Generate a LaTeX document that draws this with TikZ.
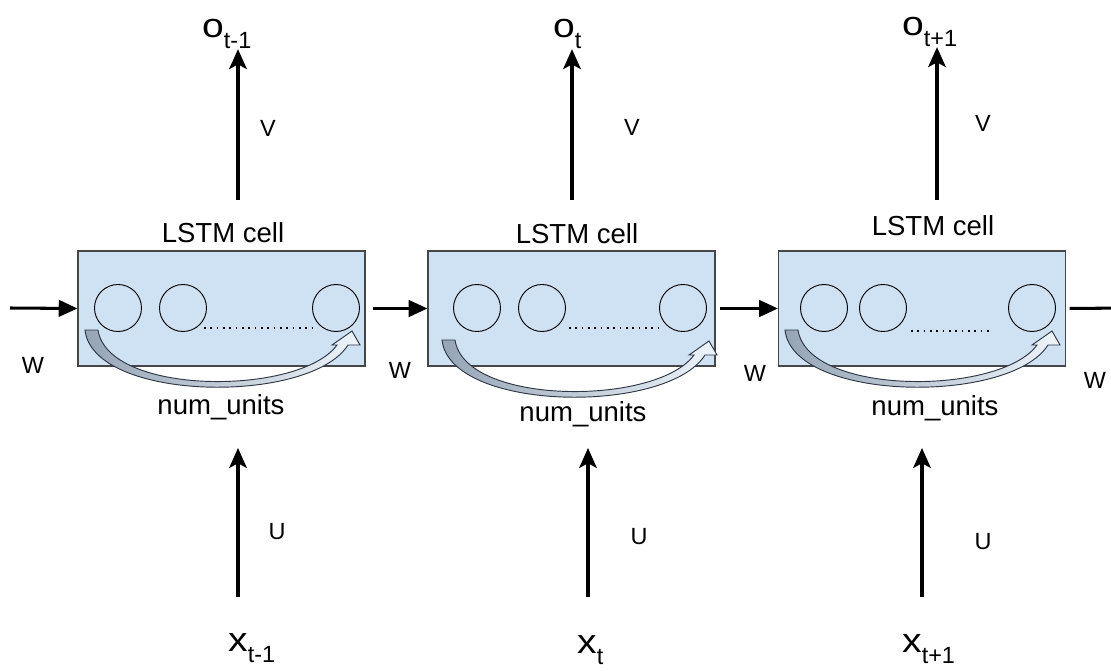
\documentclass[tikz,border=0pt]{standalone}
\usepackage{fontspec}
\setmainfont{Liberation Sans}
\usepackage{tikz}
\usetikzlibrary{arrows.meta}

\definecolor{cellblue}{RGB}{207,226,243}
\definecolor{celledge}{RGB}{70,70,70}
\definecolor{loopdark}{RGB}{150,165,182}
\definecolor{looplight}{RGB}{238,244,250}
\definecolor{loopedge}{RGB}{45,55,70}

\newcommand{\seqlbl}[2]{{\fontsize{29}{29}\selectfont\scalebox{1.15}[1]{#1}}\raisebox{-10pt}{\fontsize{20}{20}\selectfont #2}}

\tikzset{
  cell/.style={draw=celledge, fill=cellblue, line width=0.9pt, minimum width=8.61cm, minimum height=3.45cm, inner sep=0pt},
  unit/.style={draw, circle, line width=0.8pt, minimum size=1.41cm, inner sep=0pt},
  dots/.style={line width=1.4pt, dash pattern=on 1.4pt off 4pt},
  vec/.style={line width=2.6pt, -{Stealth[length=17pt, width=15pt, inset=4pt]}},
  hvec/.style={line width=2.6pt, -{Triangle[length=16pt, width=14pt]}},
  loopfill/.style={draw=loopedge, line width=0.8pt, left color=loopdark, right color=looplight},
  unitloop/.pic={
    \draw[loopfill] (7,-36) -- (20,-36) .. controls (30,30) and (222,30) .. (259,-21)
      -- (254,-21) -- (274,-35) -- (282,-21) -- (270,-21)
      .. controls (232,39) and (15,36) .. (7,-36) -- cycle;
  }
}

\begin{document}
\begin{tikzpicture}[x=0.03cm, y=-0.03cm, every node/.style={font=\fontsize{20}{20}\selectfont}]
  \useasboundingbox (0,0) rectangle (1111,671);

  \node[cell] (cell1) at (221.5,308.5) {};
  \node[cell] (cell2) at (571.5,308.5) {};
  \node[cell] (cell3) at (922,308.5) {};

  \node[unit] (u11) at (118,308) {};
  \node[unit] (u12) at (183,308) {};
  \node[unit] (u13) at (336,308) {};
  \node[unit] (u21) at (477,308) {};
  \node[unit] (u22) at (542,308) {};
  \node[unit] (u23) at (683,308) {};
  \node[unit] (u31) at (824,308) {};
  \node[unit] (u32) at (883,308) {};
  \node[unit] (u33) at (1032,308) {};

  \draw[dots] (204,328) -- (312,328);
  \draw[dots] (569,328) -- (659,328);
  \draw[dots] (911,331) -- (993,331);

  \pic at (78,366) {unitloop};
  \pic at (435,376) {unitloop};
  \pic at (778,366) {unitloop};

  \node[anchor=base, font=\fontsize{23.5}{23.5}\selectfont] (lab1) at (223,242) {LSTM cell};
  \node[anchor=base, font=\fontsize{23.5}{23.5}\selectfont] (lab2) at (577,243) {LSTM cell};
  \node[anchor=base, font=\fontsize{23.5}{23.5}\selectfont] (lab3) at (933,235) {LSTM cell};

  \node[anchor=base, font=\fontsize{23.5}{23.5}\selectfont] (nu1) at (221,414) {num\_units};
  \node[anchor=base, font=\fontsize{23.5}{23.5}\selectfont] (nu2) at (583,421) {num\_units};
  \node[anchor=base, font=\fontsize{23.5}{23.5}\selectfont] (nu3) at (935,415) {num\_units};

  \coordinate (win) at (10,308);
  \coordinate (wout) at (1130,308);
  \draw[hvec] (win) -- (cell1.west);
  \draw[hvec, shorten <=6pt] (cell1.east) -- (cell2.west);
  \draw[hvec, shorten <=4pt] (cell2.east) -- (cell3.west);
  \draw[hvec, shorten <=3pt] (cell3.east) -- (wout);

  \node (w1) at (33,365) {W};
  \node (w2) at (400,370) {W};
  \node (w3) at (755,373) {W};
  \node (w4) at (1095,380) {W};

  \node[anchor=base west, inner sep=0pt] (o1) at (202,37) {\seqlbl{o}{t-1}};
  \node[anchor=base west, inner sep=0pt] (o2) at (553,37) {\seqlbl{o}{t}};
  \node[anchor=base west, inner sep=0pt] (o3) at (902,35) {\seqlbl{o}{t+1}};

  \coordinate (vs1) at (238,200);
  \coordinate (vs2) at (572,200);
  \coordinate (vs3) at (937,200);
  \draw[vec] (vs1) -- (vs1 |- o1.south);
  \draw[vec] (vs2) -- (vs2 |- o2.south);
  \draw[vec] (vs3) -- (vs3 |- o3.south);

  \node (v1) at (268,128) {V};
  \node (v2) at (632,127) {V};
  \node (v3) at (983,123) {V};

  \node[anchor=base west, inner sep=0pt] (x1) at (228,651) {\seqlbl{x}{t-1}};
  \node[anchor=base west, inner sep=0pt] (x2) at (577,653) {\seqlbl{x}{t}};
  \node[anchor=base west, inner sep=0pt] (x3) at (902,652) {\seqlbl{x}{t+1}};

  \coordinate (xs1) at (238,597);
  \coordinate (xs2) at (588,597);
  \coordinate (xs3) at (922,597);
  \coordinate (xe1) at (238,448);
  \coordinate (xe2) at (588,448);
  \coordinate (xe3) at (922,448);
  \draw[vec] (xs1) -- (xe1);
  \draw[vec] (xs2) -- (xe2);
  \draw[vec] (xs3) -- (xe3);

  \node (uu1) at (277,532) {U};
  \node (uu2) at (639,537) {U};
  \node (uu3) at (983,542) {U};
\end{tikzpicture}
\end{document}
